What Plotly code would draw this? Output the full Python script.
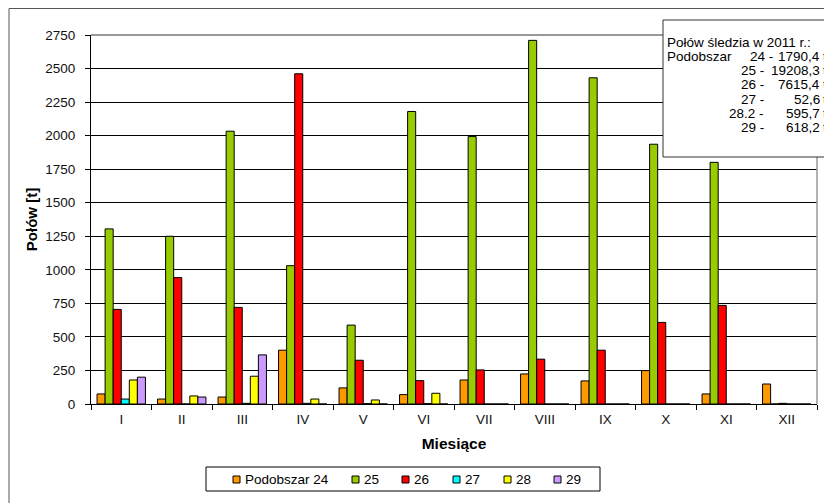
import plotly.graph_objects as go

# ---- data ----
months = ["I", "II", "III", "IV", "V", "VI", "VII", "VIII", "IX", "X", "XI", "XII"]
series_names = ["Podobszar 24", "25", "26", "27", "28", "29"]
s24 = [75, 37, 52, 401, 120, 70, 179, 224, 172, 249, 75, 149]
s25 = [1305, 1250, 2033, 1031, 588, 2180, 1993, 2710, 2431, 1936, 1801, 0]
s26 = [705, 942, 720, 2461, 326, 174, 254, 334, 401, 608, 735, 5]
s27 = [37, 0, 5, 5, 3, 3, 0, 0, 0, 0, 0, 0]
s28 = [179, 60, 207, 37, 30, 80, 0, 0, 0, 0, 0, 0]
s29 = [200, 52, 366, 0, 0, 0, 0, 0, 0, 0, 0, 0]
series_values = [s24, s25, s26, s27, s28, s29]
colors = ["#FF9900", "#99CC00", "#FF0000", "#00FFFF", "#FFFF00", "#CC99FF"]

box_title = "Połów śledzia w 2011 r.:"
box_labels = ["24 -", "25 -", "26 -", "27 -", "28.2 -", "29 -"]
box_values = ["1790,4", "19208,3", "7615,4", "52,6", "595,7", "618,2"]

# ---- geometry (screen pixels of the reference; page body adds an 8px offset) ----
OFF = 8
W, H = 832 - OFF, 503 - OFF
L, R, T, B = 91, 817, 35, 404          # plot area in screen pixels
def px(x):
    return (x - L) / (R - L)
def py(y):
    return (B - y) / (B - T)

FONT = "Liberation Sans, Arial, sans-serif"

fig = go.Figure()
for name, vals, col in zip(series_names, series_values, colors):
    fig.add_trace(go.Bar(
        x=months, y=vals, name=name, showlegend=False,
        marker=dict(color=col, line=dict(color="black", width=1)),
    ))

fig.update_layout(
    width=W, height=H,
    margin=dict(l=L - OFF, r=W - (R - OFF), t=T - OFF, b=H - (B - OFF), autoexpand=False),
    barmode="group", bargap=0.2, bargroupgap=0,
    plot_bgcolor="white", paper_bgcolor="white",
    font=dict(family=FONT, size=13.5, color="#111"),
    xaxis=dict(
        type="category", tickson="boundaries", ticks="outside", ticklen=5,
        tickcolor="black", showline=True, linecolor="black", linewidth=1,
        showgrid=False, ticklabelstandoff=3,
        title=dict(text="<b>Miesiące</b>", font=dict(size=15.5, color="#000"), standoff=11),
    ),
    yaxis=dict(
        range=[0, 2750], tick0=0, dtick=250, ticks="outside", ticklen=5,
        tickcolor="black", showline=True, linecolor="black", linewidth=1,
        showgrid=True, gridcolor="#000", gridwidth=1, zeroline=False,
        ticklabelstandoff=7,
        title=dict(text="<b>Połów [t]</b>", font=dict(size=15, color="#000"), standoff=4),
    ),
)

shapes = []
# outer chart frame (left + top edges visible)
shapes.append(dict(type="line", xref="paper", yref="paper", x0=px(9), x1=px(9), y0=py(8.5), y1=py(503),
                   line=dict(color="#555", width=1)))
shapes.append(dict(type="line", xref="paper", yref="paper", x0=px(9), x1=px(832), y0=py(8.5), y1=py(8.5),
                   line=dict(color="#555", width=1)))
# plot area top/right border
shapes.append(dict(type="line", xref="paper", yref="paper", x0=0, x1=1, y0=1, y1=1,
                   line=dict(color="#777", width=1.5)))
shapes.append(dict(type="line", xref="paper", yref="paper", x0=1, x1=1, y0=0, y1=1,
                   line=dict(color="#999", width=1.5)))
# info box
shapes.append(dict(type="rect", xref="paper", yref="paper", x0=px(663), x1=px(845), y0=py(20), y1=py(157),
                   fillcolor="white", line=dict(color="#333", width=1)))
# legend box
shapes.append(dict(type="rect", xref="paper", yref="paper", x0=px(206), x1=px(600), y0=py(467), y1=py(491),
                   fillcolor="white", line=dict(color="#000", width=1)))

annotations = []
BOXF = dict(size=13.5, color="#000")
row_y = [42 + 14.25 * i for i in range(7)]
annotations.append(dict(text=box_title, x=px(666), y=py(row_y[0]), xref="paper", yref="paper",
                        xanchor="left", yanchor="middle", showarrow=False, font=BOXF, borderpad=0))
annotations.append(dict(text="Podobszar", x=px(666), y=py(row_y[1]), xref="paper", yref="paper",
                        xanchor="left", yanchor="middle", showarrow=False, font=BOXF, borderpad=0))
for i, (lab, val) in enumerate(zip(box_labels, box_values)):
    yy = py(row_y[i + 1])
    annotations.append(dict(text=lab, x=px(774 if i == 0 else 765), y=yy, xref="paper", yref="paper",
                            xanchor="right", yanchor="middle", showarrow=False, font=BOXF, borderpad=0))
    annotations.append(dict(text=val, x=px(821), y=yy, xref="paper", yref="paper",
                            xanchor="right", yanchor="middle", showarrow=False, font=BOXF, borderpad=0))
    annotations.append(dict(text="t", x=px(822), y=yy, xref="paper", yref="paper",
                            xanchor="left", yanchor="middle", showarrow=False, font=BOXF, borderpad=0))

# legend entries
legend_sq_x = [233, 352, 402, 453, 504, 554]
for name, col, sx in zip(series_names, colors, legend_sq_x):
    shapes.append(dict(type="rect", xref="paper", yref="paper", x0=px(sx), x1=px(sx + 7),
                       y0=py(476), y1=py(483), fillcolor=col, line=dict(color="#000", width=1)))
    annotations.append(dict(text=name, x=px(sx + 10), y=py(479.5), xref="paper", yref="paper",
                            xanchor="left", yanchor="middle", showarrow=False,
                            font=dict(size=13.5, color="#000")))

fig.update_layout(shapes=shapes, annotations=annotations)
fig.write_html("out.html")
